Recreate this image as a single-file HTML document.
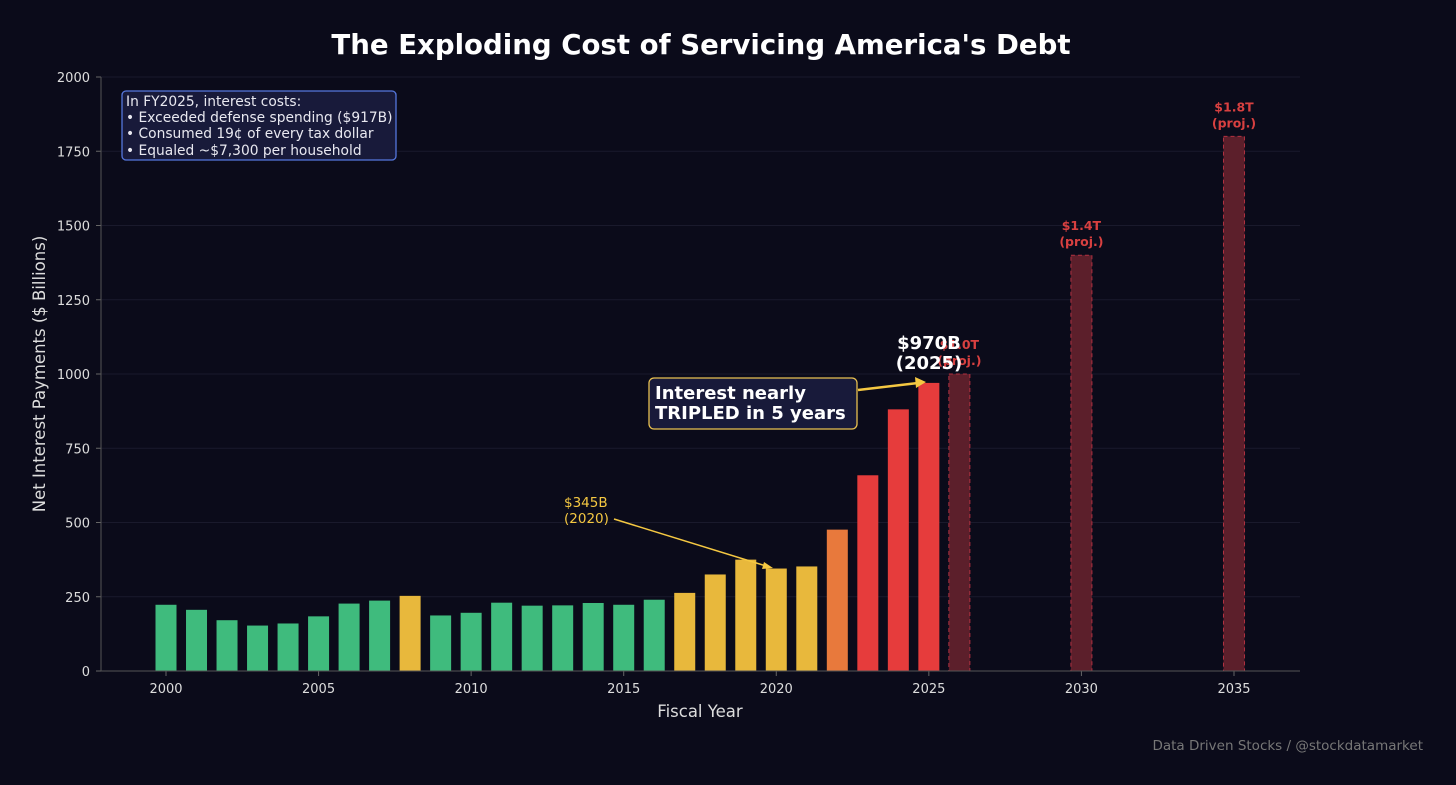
<!DOCTYPE html>
<html><head><meta charset="utf-8"><style>
body{margin:0;background:#0b0b1a;}
svg{display:block;font-family:"DejaVu Sans","Liberation Sans",sans-serif;}
</style></head><body>
<svg id="chart" width="1456" height="785" viewBox="0 0 1456 785">
<rect width="1456" height="785" fill="#0b0b1a"/>
<text x="701" y="54" text-anchor="middle" fill="#fff" font-size="27.6" font-weight="bold">The Exploding Cost of Servicing America's Debt</text>
<g id="grid"></g><g id="bars"></g><g id="axes"></g>
<text x="45" y="374" transform="rotate(-90 45 374)" text-anchor="middle" fill="#ddd" font-size="16.5">Net Interest Payments ($ Billions)</text>
<text x="700" y="717" text-anchor="middle" fill="#ddd" font-size="16.5">Fiscal Year</text>
<g>
<rect x="122" y="91" width="274" height="69" rx="4" fill="#181a3a" stroke="#5577dd" stroke-width="1.3"/>
<text fill="#e8e8f0" font-size="13.8"><tspan x="126" y="106">In FY2025, interest costs:</tspan><tspan x="126" y="122">• Exceeded defense spending ($917B)</tspan><tspan x="126" y="138">• Consumed 19¢ of every tax dollar</tspan><tspan x="126" y="155">• Equaled ~$7,300 per household</tspan></text>
</g>
<g>
<rect x="649" y="378" width="208" height="51" rx="5" fill="#181a3a" stroke="#e8c050" stroke-width="1.3"/>
<text fill="#fff" font-size="18" font-weight="bold"><tspan x="655" y="399">Interest nearly</tspan><tspan x="655" y="419">TRIPLED in 5 years</tspan></text>
<line x1="858" y1="390" x2="918" y2="383" stroke="#f5c842" stroke-width="2.5"/>
<polygon points="926,382 915,377 916,388" fill="#f5c842"/>
</g>
<g>
<text fill="#f5c842" font-size="13.5"><tspan x="564" y="507">$345B</tspan><tspan x="564" y="523">(2020)</tspan></text>
<line x1="614" y1="519" x2="766" y2="566" stroke="#f5c842" stroke-width="1.5"/>
<polygon points="773,568 764,562 762,569" fill="#f5c842"/>
</g>
<text text-anchor="middle" fill="#fff" font-size="18" font-weight="bold"><tspan x="929" y="349">$970B</tspan><tspan x="929" y="369">(2025)</tspan></text>
<text x="1423" y="750" text-anchor="end" fill="#777" font-size="13.5">Data Driven Stocks / @stockdatamarket</text>
</svg>
<script>
const years=[2000,2001,2002,2003,2004,2005,2006,2007,2008,2009,2010,2011,2012,2013,2014,2015,2016,2017,2018,2019,2020,2021,2022,2023,2024,2025,2026,2030,2035];
const values=[223,206,171,153,160,184,227,237,253,187,196,230,220,221,229,223,240,263,325,375,345,352,476,659,881,970,1000,1400,1800];
const categories=["g","g","g","g","g","g","g","g","y","g","g","g","g","g","g","g","g","y","y","y","y","y","o","r","r","r","p","p","p"];
const projLabels=["$1.0T","$1.4T","$1.8T"];
const yTicks=[0,250,500,750,1000,1250,1500,1750,2000];
const xTicks=[2000,2005,2010,2015,2020,2025,2030,2035];
const NS="http://www.w3.org/2000/svg";
const X=y=>166+(y-2000)*30.514;
const Y=v=>671-v*0.297;
const colors={g:"#3fbb7d",y:"#e8b83c",o:"#e8793c",r:"#e63c3c",p:"#5c1f2b"};
function mk(t,a,p){const e=document.createElementNS(NS,t);for(const k in a)e.setAttribute(k,a[k]);p.appendChild(e);return e;}
const grid=document.getElementById('grid'),bars=document.getElementById('bars'),axes=document.getElementById('axes');
yTicks.forEach(t=>{
 const l=mk('line',{x1:101,x2:1300,y1:Y(t),y2:Y(t),stroke:"#1a1a2c","stroke-width":1},grid);
 
 
 const tx=mk('text',{x:90,y:Y(t)+5,"text-anchor":"end",fill:"#ddd","font-size":13},axes);
 tx.textContent=t;
 
 
 mk('line',{x1:96,x2:101,y1:Y(t),y2:Y(t),stroke:"#666"},axes);
});
xTicks.forEach(t=>{
 const tx=mk('text',{x:X(t),y:693,"text-anchor":"middle",fill:"#ddd","font-size":13},axes);
 tx.textContent=t;
 
 
 mk('line',{x1:X(t),x2:X(t),y1:671,y2:676,stroke:"#666"},axes);
});
mk('line',{x1:101,x2:101,y1:77,y2:671,stroke:"#555"},axes);
mk('line',{x1:101,x2:1300,y1:671,y2:671,stroke:"#555"},axes);
let pi=0;
years.forEach((yr,i)=>{
 const c=categories[i],w=21;
 const attrs={x:X(yr)-w/2,y:Y(values[i]),width:w,height:Y(0)-Y(values[i]),fill:colors[c]};
 if(c==="p"){attrs.stroke="#b03040";attrs["stroke-dasharray"]="4,3";attrs["stroke-width"]=1;}
 const r=mk('rect',attrs,bars);
 
 
 if(c==="p"){
  const t=mk('text',{"text-anchor":"middle",fill:"#d84040","font-size":12.5,"font-weight":"bold"},axes);
  const a=mk('tspan',{x:X(yr),y:Y(values[i])-25},t);a.textContent=projLabels[pi++];
  const b=mk('tspan',{x:X(yr),y:Y(values[i])-9},t);b.textContent="(proj.)";
  
  
 }
});
</script>
</body></html>
